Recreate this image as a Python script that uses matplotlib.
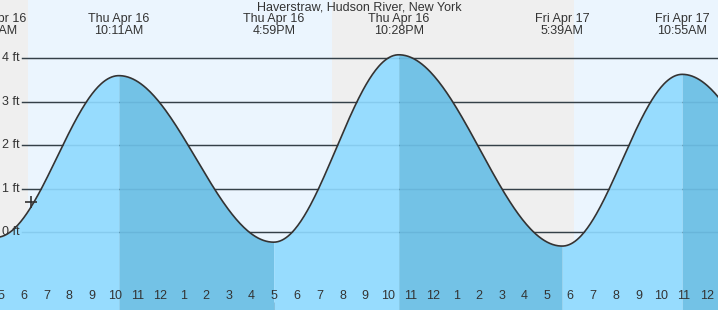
import numpy as np
import matplotlib
matplotlib.use("Agg")
import matplotlib.pyplot as plt
import matplotlib.transforms as mtransforms

# ---- data ----
title = "Haverstraw, Hudson River, New York"
# tide extremes: hours since midnight Thu Apr 16, heights in ft
extreme_times = [4.78, 10.18, 16.98, 22.47, 29.65, 34.92, 41.50]
extreme_heights = [-0.12, 3.60, -0.23, 4.08, -0.32, 3.63, -0.20]
extreme_labels_day = ["Thu Apr 16", "Thu Apr 16", "Thu Apr 16", "Thu Apr 16",
                      "Fri Apr 17", "Fri Apr 17", "Fri Apr 17"]
extreme_labels_time = ["4:47AM", "10:11AM", "4:59PM", "10:28PM",
                       "5:39AM", "10:55AM", "5:30PM"]
sun_events = [6.17, 19.55, 30.18]          # sunrise, sunset, sunrise
now_time, now_height = 6.34, 0.70
y_ticks = [0, 1, 2, 3, 4]
y_tick_labels = ["0 ft", "1 ft", "2 ft", "3 ft", "4 ft"]
x_hours = list(range(5, 37))
x_hour_labels = [str((h - 1) % 12 + 1) for h in x_hours]

# ---- style ----
NIGHT = "#efefef"
DAY = "#ebf5fe"
RISE = "#97dcfe"
FALL = "#73c2e6"
TXT = "#333333"
plt.rcParams["font.family"] = ["Liberation Sans", "DejaVu Sans"]

fig = plt.figure(figsize=(7.18, 3.10), dpi=100)
ax = fig.add_axes([0, 0, 1, 1])
x0, x1 = 4.96, 4.96 + 718 / 22.77
y0, y1 = -1.79, 5.34
ax.set_xlim(x0, x1)
ax.set_ylim(y0, y1)
for s in ax.spines.values():
    s.set_visible(False)

# day / night backgrounds
bounds = [x0 - 5] + sun_events + [x1 + 5]
for i in range(len(bounds) - 1):
    ax.axvspan(bounds[i], bounds[i + 1], color=NIGHT if i % 2 == 0 else DAY,
               lw=0, zorder=0)

# grid lines (behind the water)
for yv in y_ticks:
    ax.axhline(yv, xmin=22 / 718, xmax=1, color=TXT, lw=1.0, zorder=1)

# tide curve: cosine shape between successive extremes
ts, hs = [], []
for i in range(len(extreme_times) - 1):
    t1, t2 = extreme_times[i], extreme_times[i + 1]
    h1, h2 = extreme_heights[i], extreme_heights[i + 1]
    tt = np.linspace(t1, t2, 120)
    hh = (h1 + h2) / 2 - (h2 - h1) / 2 * np.cos(np.pi * (tt - t1) / (t2 - t1))
    col = RISE if h2 > h1 else FALL
    ax.fill_between(tt, y0 - 1, hh, color=col, lw=0, zorder=2)
    ts.append(tt)
    hs.append(hh)
ts = np.concatenate(ts)
hs = np.concatenate(hs)

# faint grid lines over water
for yv in y_ticks:
    ax.axhline(yv, xmin=22 / 718, xmax=1, color="#3a7fa8", alpha=0.18,
               lw=1.0, zorder=3)

ax.plot(ts, hs, color=TXT, lw=1.2, zorder=4)
ax.plot([now_time], [now_height], marker="+", ms=9, mew=1.2, color=TXT,
        zorder=5)

# y labels
for yv, lab in zip(y_ticks, y_tick_labels):
    ax.text(0.003, yv, lab, transform=mtransforms.blended_transform_factory(
        ax.transAxes, ax.transData), ha="left", va="center", fontsize=9,
        color=TXT, zorder=6)

# x ticks and labels
ax.set_xticks(x_hours)
ax.set_xticklabels([])
ax.set_yticks([])
ax.tick_params(axis="x", direction="in", length=6, width=1.0, color=TXT,
               pad=0)
for h, tk in zip(x_hours, ax.xaxis.get_major_ticks()):
    tk.tick1line.set_zorder(7)
    if h == 24:
        tk.tick1line.set_markeredgewidth(2.2)
trans_x = mtransforms.blended_transform_factory(ax.transData, ax.transAxes)
for h, lab in zip(x_hours, x_hour_labels):
    ax.text(h, 14 / 310, lab, transform=trans_x, ha="center", va="center",
            fontsize=9, color=TXT, zorder=6)

# title and event labels
fig.text(0.5, 1 - 8 / 310, title, ha="center", va="center", fontsize=9,
         color=TXT)
for t, d, tm in zip(extreme_times, extreme_labels_day, extreme_labels_time):
    ax.text(t, 1 - 19 / 310, d, transform=trans_x, ha="center", va="center",
            fontsize=9, color=TXT, zorder=6)
    ax.text(t, 1 - 31 / 310, tm, transform=trans_x, ha="center", va="center",
            fontsize=9, color=TXT, zorder=6)

fig.savefig("out.png", dpi=100)
